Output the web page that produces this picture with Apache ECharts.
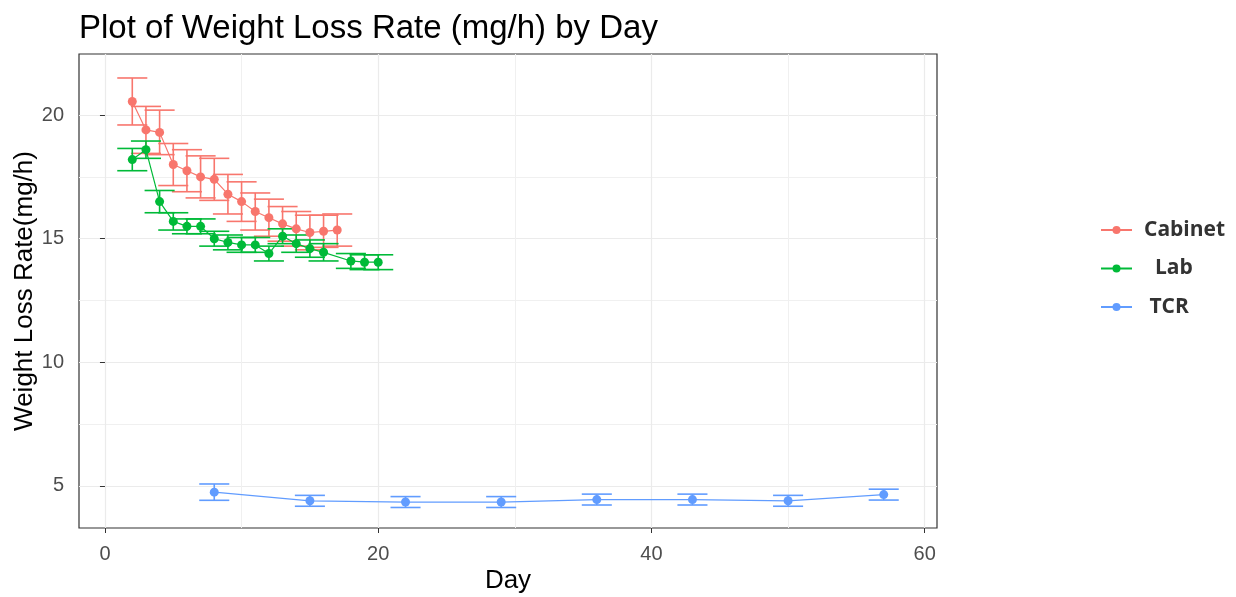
<!DOCTYPE html>
<html>
<head>
<meta charset="utf-8">
<script src="https://cdn.jsdelivr.net/npm/echarts@6/dist/echarts.min.js"></script>
<style>
html,body{margin:0;padding:0;background:#fff;}
#chart{width:1236px;height:597px;}
</style>
</head>
<body>
<div id="chart"></div>
<script>
// ---- data ----
const cabinetDays = [2,3,4,5,6,7,8,9,10,11,12,13,14,15,16,17];
const cabinetRate = [20.55,19.4,19.3,18.0,17.75,17.5,17.4,16.8,16.5,16.1,15.85,15.6,15.4,15.25,15.3,15.35];
const cabinetErr  = [0.95,0.95,0.9,0.85,0.85,0.85,0.85,0.8,0.8,0.75,0.75,0.7,0.7,0.7,0.65,0.65];

const labDays = [2,3,4,5,6,7,8,9,10,11,12,13,14,15,16,18,19,20];
const labRate = [18.2,18.6,16.5,15.7,15.5,15.5,15.0,14.85,14.75,14.75,14.4,15.1,14.8,14.6,14.45,14.1,14.05,14.05];
const labErr  = [0.45,0.35,0.45,0.35,0.3,0.3,0.3,0.3,0.3,0.3,0.3,0.3,0.35,0.35,0.35,0.3,0.3,0.3];

const tcrDays = [8,15,22,29,36,43,50,57];
const tcrRate = [4.75,4.4,4.35,4.35,4.45,4.45,4.4,4.65];
const tcrErr  = [0.33,0.22,0.22,0.22,0.22,0.22,0.22,0.22];

const xTicks = [0,20,40,60];
const xMinor = [10,30,50];
const yTicks = [5,10,15,20];
const yMinor = [7.5,12.5,17.5];

const groups = ['Cabinet','Lab','TCR'];
const colors = ['#F8766D','#00BA38','#619CFF'];
const capHalf = 1.1;

// ---- build ----
const raw = [
  [cabinetDays, cabinetRate, cabinetErr],
  [labDays, labRate, labErr],
  [tcrDays, tcrRate, tcrErr]
];

function errRender(color){
  return function(params, api){
    const x = api.value(0), y = api.value(1), e = api.value(2);
    const t = api.coord([x, y + e]), b = api.coord([x, y - e]);
    const tl = api.coord([x - capHalf, y + e]), tr = api.coord([x + capHalf, y + e]);
    const bl = api.coord([x - capHalf, y - e]), br = api.coord([x + capHalf, y - e]);
    const st = {stroke: color, lineWidth: 1.6};
    return {type:'group', children:[
      {type:'line', shape:{x1:t[0],y1:t[1],x2:b[0],y2:b[1]}, style:st},
      {type:'line', shape:{x1:tl[0],y1:tl[1],x2:tr[0],y2:tr[1]}, style:st},
      {type:'line', shape:{x1:bl[0],y1:bl[1],x2:br[0],y2:br[1]}, style:st}
    ]};
  };
}

const series = [];
raw.forEach((g, i) => {
  const pts = g[0].map((d, k) => [d, g[1][k], g[2][k]]);
  series.push({
    name: groups[i] + '_err',
    type: 'custom',
    xAxisIndex: 0, yAxisIndex: 0,
    renderItem: errRender(colors[i]),
    encode: {x: 0, y: 1},
    data: pts,
    z: 2,
    silent: true
  });
  series.push({
    name: groups[i],
    type: 'line',
    xAxisIndex: 0, yAxisIndex: 0,
    data: pts.map(p => [p[0], p[1]]),
    symbol: 'circle',
    symbolSize: 9,
    itemStyle: {color: colors[i]},
    lineStyle: {color: colors[i], width: 1.2},
    z: 3,
    animation: false
  });
});

const FONT = 'Liberation Sans, Arial, sans-serif';

const option = {
  animation: false,
  backgroundColor: '#ffffff',
  title: {
    text: 'Plot of Weight Loss Rate (mg/h) by Day',
    left: 74, top: 7,
    textStyle: {fontFamily: FONT, fontSize: 33, fontWeight: 'normal', color: '#000'}
  },
  legend: {
    orient: 'vertical',
    left: 1095, top: 213,
    itemWidth: 31, itemHeight: 10,
    itemGap: 14.5,
    data: groups,
    formatter: n => n === 'Cabinet' ? n : (n === 'Lab' ? '  ' + n : ' ' + n),
    textStyle: {fontFamily: 'Open Sans, sans-serif', fontSize: 21, fontWeight: 'bold', color: '#333', lineHeight: 24, padding: [0,0,0,7]}
  },
  grid: {
    left: 79, right: 299, top: 54, bottom: 69,
    show: true, borderColor: '#333333', borderWidth: 1.2, backgroundColor: 'transparent',
    containLabel: false,
    outerBoundsMode: 'none'
  },
  xAxis: [
    {
      type: 'value', min: -1.9, max: 60.9,
      name: 'Day', nameLocation: 'middle', nameGap: 40, nameMoveOverlap: false,
      nameTextStyle: {fontFamily: FONT, fontSize: 26, color: '#000'},
      axisLine: {show: false},
      axisTick: {show: true, inside: false, length: 5, customValues: xTicks, lineStyle: {color: '#333', width: 1}},
      axisLabel: {customValues: xTicks, margin: 16, fontFamily: FONT, fontSize: 20, color: '#4D4D4D'},
      splitLine: {show: true, lineStyle: {color: '#EBEBEB', width: 1.2}}
    },
    {
      type: 'value', min: -1.9, max: 60.9, position: 'bottom',
      axisLine: {show: false},
      axisTick: {show: false, customValues: xMinor},
      axisLabel: {show: false, customValues: xMinor},
      splitLine: {show: true, lineStyle: {color: '#F0F0F0', width: 1}}
    }
  ],
  yAxis: [
    {
      type: 'value', min: 3.3, max: 22.47,
      name: 'Weight Loss Rate(mg/h)', nameLocation: 'middle', nameGap: 41, nameMoveOverlap: false,
      nameTextStyle: {fontFamily: FONT, fontSize: 26, color: '#000'},
      axisLine: {show: false},
      axisTick: {show: true, inside: false, length: 5, customValues: yTicks, lineStyle: {color: '#333', width: 1}},
      axisLabel: {customValues: yTicks, margin: 15, fontFamily: FONT, fontSize: 20, color: '#4D4D4D'},
      splitLine: {show: true, lineStyle: {color: '#EBEBEB', width: 1.2}}
    },
    {
      type: 'value', min: 3.3, max: 22.47, position: 'left',
      axisLine: {show: false},
      axisTick: {show: false, customValues: yMinor},
      axisLabel: {show: false, customValues: yMinor},
      splitLine: {show: true, lineStyle: {color: '#F0F0F0', width: 1}}
    }
  ],
  series: series
};

const chart = echarts.init(document.getElementById('chart'), null, {renderer: 'canvas'});
chart.setOption(option);
</script>
</body>
</html>
